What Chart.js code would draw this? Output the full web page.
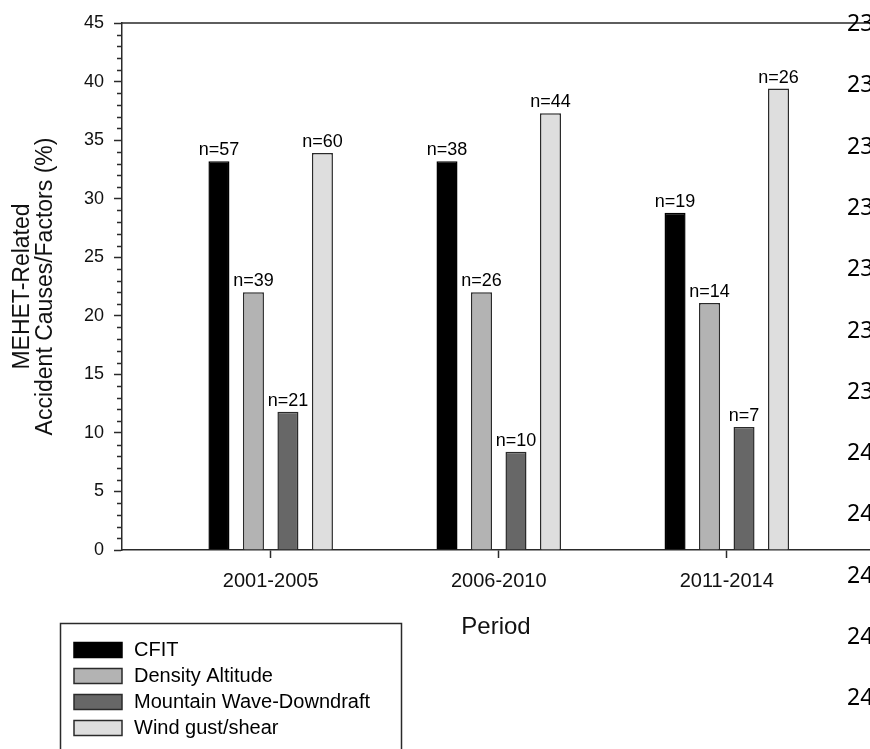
<!DOCTYPE html>
<html>
<head>
<meta charset="utf-8">
<script src="https://cdn.jsdelivr.net/npm/chart.js@4.4.0/dist/chart.umd.min.js"></script>
<style>
  html, body { margin: 0; padding: 0; background: #fff; overflow: hidden; }
  #wrap { position: relative; width: 870px; height: 749px; overflow: hidden; }
  #chart { position: absolute; left: 0; top: 0; }
  .lineno { position: absolute; left: 847px; font-family: 'Noto Sans', sans-serif; font-size: 23px; line-height: 30px; color: #000; white-space: nowrap; }
</style>
</head>
<body>
<div id="wrap">
  <canvas id="chart" width="870" height="749"></canvas>
</div>
<script>
const periods = ['2001-2005', '2006-2010', '2011-2014'];
const seriesNames = ['CFIT', 'Density Altitude', 'Mountain Wave-Downdraft', 'Wind gust/shear'];

// percent of MEHET-related accidents
const cfit = [33.2, 33.2, 28.8];
const densityAltitude = [22.0, 22.0, 21.1];
const mountainWave = [11.8, 8.4, 10.5];
const windShear = [33.9, 37.3, 39.4];

// n= labels above the bars
const cfitN = [57, 38, 19];
const densityN = [39, 26, 14];
const mountainN = [21, 10, 7];
const windN = [60, 44, 26];

// manuscript line numbers showing at the cropped right edge
const lineNumbers = [233, 234, 235, 236, 237, 238, 239, 240, 241, 242, 243, 244, 245];

const fills = ['#000000', '#b3b3b3', '#676767', '#dedede'];
const edge = '#2a2a2a';
const font = 'Liberation Sans, Arial, sans-serif';

const values = [cfit, densityAltitude, mountainWave, windShear];
const counts = [cfitN, densityN, mountainN, windN];

const datasets = seriesNames.map((name, s) => ({
  label: name,
  data: values[s].map((v, i) => ({ x: i, y: v })),
  backgroundColor: fills[s],
  borderColor: s === 0 ? '#000' : edge,
  borderWidth: 1.5,
  categoryPercentage: 0.605,
  barPercentage: 0.61,
}));

const minorTicks = {
  id: 'minorTicks',
  afterDraw(chart) {
    const y = chart.scales.y;
    const { ctx, chartArea } = chart;
    ctx.save();
    ctx.strokeStyle = edge;
    ctx.lineWidth = 1.5;
    ctx.beginPath();
    for (let v = y.min; v <= y.max; v++) {
      if (v % 5 === 0) continue;
      const py = Math.round(y.getPixelForValue(v)) + 0.5;
      ctx.moveTo(chartArea.left - 5, py);
      ctx.lineTo(chartArea.left, py);
    }
    // top frame line
    ctx.moveTo(chartArea.left, chartArea.top);
    ctx.lineTo(chartArea.right, chartArea.top);
    ctx.stroke();
    ctx.restore();
  }
};

const countLabels = {
  id: 'countLabels',
  afterDatasetsDraw(chart) {
    const ctx = chart.ctx;
    ctx.save();
    ctx.font = '18px ' + font;
    ctx.fillStyle = '#000';
    ctx.textAlign = 'center';
    ctx.textBaseline = 'bottom';
    chart.data.datasets.forEach((ds, d) => {
      chart.getDatasetMeta(d).data.forEach((bar, i) => {
        ctx.fillText('n=' + counts[d][i], bar.x, bar.y - 2);
      });
    });
    ctx.restore();
  }
};

const boxLegend = {
  id: 'boxLegend',
  afterDraw(chart) {
    const ctx = chart.ctx;
    ctx.save();
    ctx.strokeStyle = edge;
    ctx.lineWidth = 1.5;
    ctx.strokeRect(60.5, 623.5, 341, 200);
    ctx.font = '20px ' + font;
    ctx.textBaseline = 'middle';
    ctx.textAlign = 'left';
    chart.data.datasets.forEach((ds, d) => {
      const top = 642.5 + d * 26;
      ctx.fillStyle = ds.backgroundColor;
      ctx.fillRect(74, top, 48, 15);
      ctx.strokeStyle = ds.borderColor;
      ctx.strokeRect(74, top, 48, 15);
      ctx.fillStyle = '#000';
      ctx.fillText(ds.label, 134, top + 8);
    });
    ctx.restore();
  }
};

new Chart(document.getElementById('chart'), {
  type: 'bar',
  data: { datasets },
  options: {
    responsive: false,
    animation: false,
    devicePixelRatio: 1,
    layout: { padding: { top: 23, left: 0, right: 0, bottom: 0 } },
    plugins: {
      legend: { display: false },
      tooltip: { enabled: false },
    },
    scales: {
      x: {
        type: 'linear',
        min: -0.652,
        max: 2.628,
        offset: false,
        afterFit(scale) { scale.height = 199; },
        afterBuildTicks(scale) { scale.ticks = periods.map((p, i) => ({ value: i })); },
        grid: { offset: false, drawOnChartArea: false, tickLength: 8, tickColor: edge, tickWidth: 1.5 },
        border: { color: edge, width: 1.5 },
        ticks: {
          autoSkip: false,
          maxRotation: 0,
          padding: 11,
          color: '#111',
          font: { family: font, size: 20 },
          callback: v => periods[v],
        },
        title: {
          display: true,
          text: 'Period',
          color: '#111',
          font: { family: font, size: 24 },
          padding: { top: 0, bottom: 107 },
        },
      },
      y: {
        min: 0,
        max: 45,
        afterFit(scale) { scale.width = 122; },
        grid: { drawOnChartArea: false, tickLength: 8, tickColor: edge, tickWidth: 1.5 },
        border: { color: edge, width: 1.5 },
        ticks: {
          stepSize: 5,
          padding: 10,
          color: '#111',
          font: { family: font, size: 18 },
        },
        title: {
          display: true,
          text: ['MEHET-Related', 'Accident Causes/Factors (%)'],
          color: '#111',
          font: { family: font, size: 23, lineHeight: 1.0 },
          padding: { top: 11, bottom: 0 },
        },
      },
    },
  },
  plugins: [minorTicks, countLabels, boxLegend],
});

const wrap = document.getElementById('wrap');
lineNumbers.forEach((n, k) => {
  const div = document.createElement('div');
  div.className = 'lineno';
  div.textContent = n;
  div.style.top = (22 + k * 61.3 - 15) + 'px';
  wrap.appendChild(div);
});
</script>
</body>
</html>
